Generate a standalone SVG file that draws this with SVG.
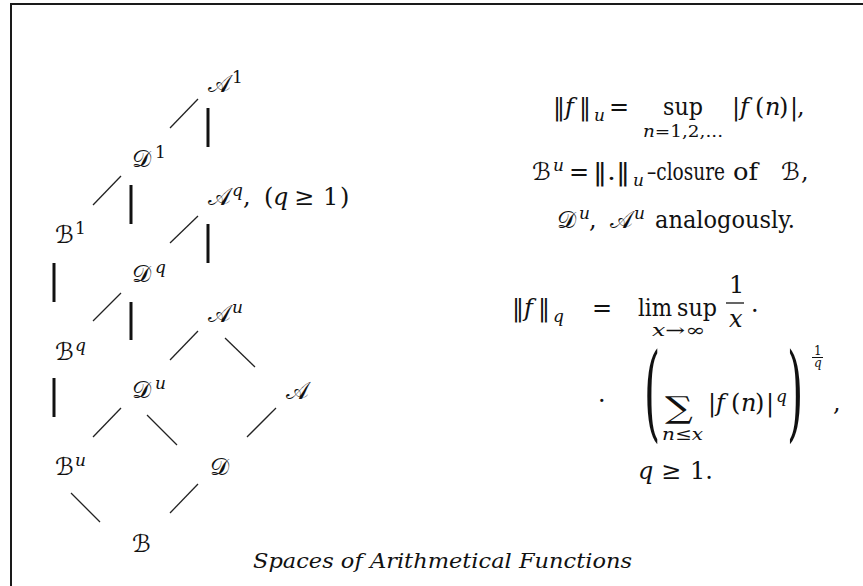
<svg xmlns="http://www.w3.org/2000/svg" width="863" height="586" viewBox="0 0 863 586">
<style>
.t{font-family:"DejaVu Serif",serif;font-size:24px;fill:#111}
.i{font-style:italic}
.s{font-size:17px}
.xs{font-size:12px}
.cal{font-size:24px;fill:#111}
.big{font-size:104px}
.sum{font-size:30px}
.cap{font-size:20px}
.thin{stroke:#222;stroke-width:1.3;fill:none}
.thick{stroke:#111;stroke-width:3;fill:none}
.frame{stroke:#1a1a1a;stroke-width:2;fill:none}
</style>
<rect width="863" height="586" fill="#fff"/>
<path class="frame" d="M11,586 V4 H863"/>
<g id="connectors">
<line class="thin" x1="170" y1="128" x2="198" y2="99"/>
<line class="thin" x1="93" y1="205" x2="121" y2="176"/>
<line class="thin" x1="170" y1="243" x2="198" y2="216"/>
<line class="thin" x1="93" y1="321" x2="121" y2="293"/>
<line class="thin" x1="170" y1="360" x2="198" y2="331"/>
<line class="thin" x1="225" y1="338" x2="255" y2="367"/>
<line class="thin" x1="93" y1="437" x2="121" y2="408"/>
<line class="thin" x1="147" y1="415" x2="177" y2="445"/>
<line class="thin" x1="247" y1="437" x2="276" y2="408"/>
<line class="thin" x1="71" y1="493" x2="100" y2="522"/>
<line class="thin" x1="170" y1="513" x2="198" y2="484"/>
<line class="thick" x1="208" y1="108" x2="208" y2="147"/>
<line class="thick" x1="131" y1="185" x2="131" y2="224"/>
<line class="thick" x1="208" y1="224" x2="208" y2="263"/>
<line class="thick" x1="54" y1="263" x2="54" y2="302"/>
<line class="thick" x1="131" y1="302" x2="131" y2="340"/>
<line class="thick" x1="54" y1="378" x2="54" y2="417"/>
</g>
<g font-family="DejaVu Serif, DejaVu Sans, serif">
<g id="A1"><text class="cal" x="208" y="92">𝒜</text><text class="t s" x="232" y="83">1</text></g>
<g id="D1"><text class="cal" x="132" y="167">𝒟</text><text class="t s" x="155" y="158">1</text></g>
<g id="Aq"><text class="cal" x="208" y="205">𝒜</text><text class="t s i" x="232" y="196">q</text><text class="t" x="243" y="205">,</text><text class="t" x="264" y="205">(</text><text class="t i" x="273" y="205">q</text><text class="t" x="294" y="205">≥</text><text class="t" x="323" y="205">1</text><text class="t" x="340" y="205">)</text></g>
<g id="B1"><text class="cal" x="55" y="243">ℬ</text><text class="t s" x="75" y="234">1</text></g>
<g id="Dq"><text class="cal" x="132" y="282">𝒟</text><text class="t s i" x="155" y="273">q</text></g>
<g id="Au"><text class="cal" x="208" y="322">𝒜</text><text class="t s i" x="232" y="313">u</text></g>
<g id="Bq"><text class="cal" x="55" y="360">ℬ</text><text class="t s i" x="75" y="351">q</text></g>
<g id="Du"><text class="cal" x="132" y="398">𝒟</text><text class="t s i" x="155" y="389">u</text></g>
<g id="A"><text class="cal" x="286" y="399">𝒜</text></g>
<g id="Bu"><text class="cal" x="55" y="475">ℬ</text><text class="t s i" x="75" y="466">u</text></g>
<g id="D"><text class="cal" x="210" y="475">𝒟</text></g>
<g id="B"><text class="cal" x="132" y="552">ℬ</text></g>
<g id="norm-u">
<text class="t" x="553" y="115">‖</text><text class="t i" x="565" y="115">f</text><text class="t" x="579" y="115">‖</text><text class="t s i" x="594" y="121">u</text>
<text class="t" x="609" y="115">=</text><text class="t" x="663" y="115" textLength="40" lengthAdjust="spacingAndGlyphs">sup</text>
<text class="t s" x="643" y="137" textLength="80" lengthAdjust="spacingAndGlyphs"><tspan class="i">n</tspan>=1,2,...</text>
<text class="t" x="732" y="115">|</text><text class="t i" x="740" y="115">f</text><text class="t" x="755" y="115">(</text><text class="t i" x="765" y="115">n</text><text class="t" x="779" y="115">)</text><text class="t" x="790" y="115">|</text><text class="t" x="797" y="115">,</text>
<text class="cal" x="532" y="180">ℬ</text><text class="t s i" x="553" y="171">u</text><text class="t" x="569" y="180">=</text><text class="t" x="593" y="180" textLength="37" lengthAdjust="spacingAndGlyphs">‖.‖</text><text class="t s i" x="633" y="186">u</text>
<text class="t" x="647" y="180" textLength="78" lengthAdjust="spacingAndGlyphs">–closure</text><text class="t" x="733" y="180" textLength="25" lengthAdjust="spacingAndGlyphs">of</text><text class="cal" x="781" y="180">ℬ</text><text class="t" x="801" y="180">,</text>
<text class="cal" x="557" y="228">𝒟</text><text class="t s i" x="579" y="219">u</text><text class="t" x="589" y="228">,</text><text class="cal" x="610" y="228">𝒜</text><text class="t s i" x="634" y="219">u</text>
<text class="t" x="655" y="228" textLength="140" lengthAdjust="spacingAndGlyphs">analogously.</text>
</g>
<g id="norm-q">
<text class="t" x="512" y="316">‖</text><text class="t i" x="524" y="316">f</text><text class="t" x="538" y="316">‖</text><text class="t s i" x="553" y="322">q</text>
<text class="t" x="592" y="316">=</text><text class="t" x="638" y="316" textLength="34" lengthAdjust="spacingAndGlyphs">lim</text><text class="t" x="677" y="316" textLength="40" lengthAdjust="spacingAndGlyphs">sup</text>
<text class="t s i" x="652" y="336" textLength="53" lengthAdjust="spacingAndGlyphs">x<tspan font-style="normal">→∞</tspan></text>
<text class="t" x="729" y="293">1</text><line x1="726" y1="303" x2="744" y2="303" stroke="#111" stroke-width="1.3"/><text class="t i" x="729" y="327">x</text>
<text class="t" x="751" y="319">·</text>
<text class="t" x="598" y="409">·</text>
<text class="t big" transform="translate(644,428) scale(0.4,1)">(</text>
<text class="t sum" transform="translate(665,418) scale(1.3,1)">∑</text>
<text class="t s" x="662" y="440" textLength="41" lengthAdjust="spacingAndGlyphs"><tspan class="i">n</tspan>≤<tspan class="i">x</tspan></text>
<text class="t" x="708" y="411">|</text><text class="t i" x="716" y="411">f</text><text class="t" x="731" y="411">(</text><text class="t i" x="741" y="411">n</text><text class="t" x="755" y="411">)</text><text class="t" x="766" y="411">|</text><text class="t s i" x="776" y="402">q</text>
<text class="t big" transform="translate(787,428) scale(0.4,1)">)</text>
<text class="t xs" x="814" y="355">1</text><line x1="812" y1="357.5" x2="823" y2="357.5" stroke="#111" stroke-width="1"/><text class="t xs i" x="814" y="367">q</text>
<text class="t" x="833" y="411">,</text>
<text class="t i" x="638" y="479">q</text><text class="t" x="661" y="479">≥</text><text class="t" x="690" y="479">1.</text>
</g>
<g id="caption"><text class="t i cap" x="253" y="568" textLength="379" lengthAdjust="spacingAndGlyphs">Spaces of Arithmetical Functions</text></g>
</g>
</svg>
